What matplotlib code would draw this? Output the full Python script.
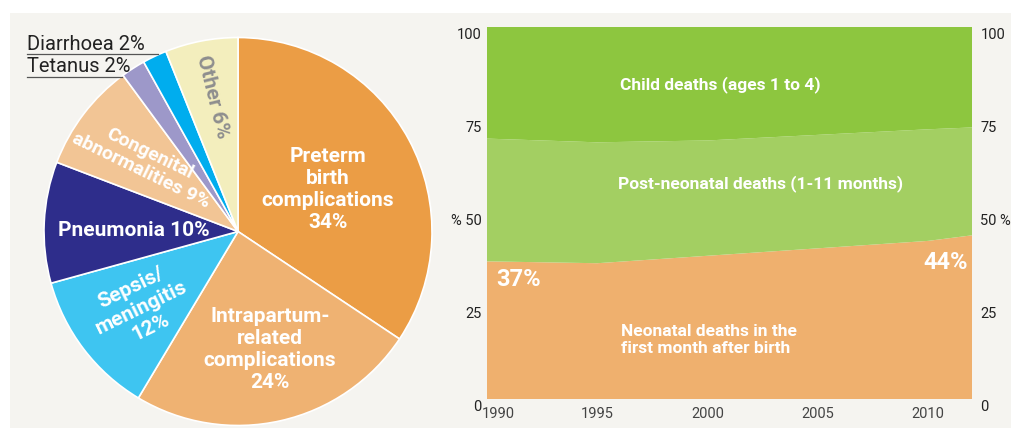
import matplotlib
matplotlib.use('Agg')
from matplotlib import pyplot as plt
from matplotlib.patches import Rectangle
import matplotlib.transforms as mtransforms

# pie data (clockwise from top)
causes = ['Preterm birth complications', 'Intrapartum-related complications',
          'Sepsis/meningitis', 'Pneumonia', 'Congenital abnormalities',
          'Tetanus', 'Diarrhoea', 'Other']
shares = [34, 24, 12, 10, 9, 2, 2, 6]
pie_colors = ['#eb9d45', '#efb272', '#3ec5f1', '#2e2d8b', '#f2c595',
              '#9d98c9', '#00adee', '#f3eebd']

# area chart data
years = [1990, 1995, 2000, 2005, 2010, 2012]
neonatal = [37, 36.5, 38.5, 40.5, 42.5, 44]
post_neonatal = [33, 32.5, 31, 30.5, 30, 29]
child = [30, 31, 30.5, 29, 27.5, 27]
area_colors = ['#efb06e', '#a3cf62', '#8dc63f']
xtick_years = [1990, 1995, 2000, 2005, 2010]
ytick_vals = [0, 25, 50, 75, 100]
left_labels = ['0', '25', '% 50', '75', '100']
right_labels = ['0', '25', '50 %', '75', '100']

plt.rcParams['font.family'] = ['Roboto', 'DejaVu Sans']

W, H = 1011, 428
fig = plt.figure(figsize=(W / 100, H / 100), dpi=100, facecolor='white')
# grey panel behind everything
bg = fig.add_axes([10 / W, 0, 1, (H - 13) / H], zorder=-5)
bg.add_patch(Rectangle((0, 0), 1, 1, facecolor='#f5f4f0', edgecolor='none'))
bg.axis('off')

# ---- pie ----
cx, cy, r = 238, H - 231.5, 194
ax1 = fig.add_axes([(cx - r) / W, (cy - r) / H, 2 * r / W, 2 * r / H])
ax1.pie(shares, colors=pie_colors, startangle=90, counterclock=False,
        wedgeprops=dict(edgecolor='white', linewidth=1.2))
ax1.set_xlim(-1, 1)
ax1.set_ylim(-1, 1)
ax1.axis('off')


def px(x, y):
    # pixel coords of the picture -> pie data coords
    return (x - cx) / r, ((H - y) - cy) / r


tk = dict(color='white', fontweight='bold', fontsize=15, ha='center', va='center',
          linespacing=1.2)
ax1.text(*px(328, 190), 'Preterm\nbirth\ncomplications\n34%', **tk)
ax1.text(*px(270, 350), 'Intrapartum-\nrelated\ncomplications\n24%', **tk)
ax1.text(*px(141, 308), 'Sepsis/\nmeningitis\n12%', rotation=26, **tk)
ax1.text(*px(134, 230), 'Pneumonia 10%', **tk)
ax1.text(*px(145, 162), 'Congenital\nabnormalities 9%', rotation=-26, color='white',
         fontweight='bold', fontsize=14, ha='center', va='center', linespacing=1.05)
ax1.text(*px(213, 97), 'Other 6%', color='#8e8e8e', fontweight='bold', fontsize=15,
         ha='center', va='center', rotation=-76)

# small slice labels with underline
fig.text(27 / W, (H - 44) / H, 'Diarrhoea 2%', fontsize=14.5, color='#222222',
         ha='left', va='center')
fig.text(27 / W, (H - 67) / H, 'Tetanus 2%', fontsize=14.5, color='#222222',
         ha='left', va='center')
fig.lines.append(plt.Line2D([27 / W, 158 / W], [(H - 54) / H] * 2, transform=fig.transFigure,
                            color='#555555', lw=0.9))
fig.lines.append(plt.Line2D([27 / W, 122 / W], [(H - 77) / H] * 2, transform=fig.transFigure,
                            color='#555555', lw=0.9))

# ---- stacked area ----
ax2 = fig.add_axes([487 / W, 29 / H, 485 / W, 372 / H])
ax2.stackplot(years, neonatal, post_neonatal, child, colors=area_colors, linewidth=0)
ax2.set_xlim(1990, 2012)
ax2.set_ylim(0, 100)
for s in ax2.spines.values():
    s.set_visible(False)
ax2.set_xticks(xtick_years)
ax2.set_xticklabels([str(y) for y in xtick_years], fontsize=10.5, color='#444444')
ax2.set_yticks(ytick_vals)
ax2.set_yticklabels(left_labels, fontsize=10.5, color='#222222')
ax2.tick_params(length=0, pad=4)
ax2.tick_params(axis='x', pad=6)
ax3 = ax2.twinx()
ax3.set_ylim(0, 100)
ax3.set_yticks(ytick_vals)
ax3.set_yticklabels(right_labels, fontsize=10.5, color='#222222')
ax3.tick_params(length=0, pad=6)
for s in ax3.spines.values():
    s.set_visible(False)
# tick labels sit a bit below the gridline
off = mtransforms.ScaledTranslation(0, -5 / 72, fig.dpi_scale_trans)
for lab in ax2.get_yticklabels() + ax3.get_yticklabels():
    lab.set_transform(lab.get_transform() + off)
first = ax2.get_xticklabels()[0]
first.set_transform(first.get_transform()
                    + mtransforms.ScaledTranslation(8 / 72, 0, fig.dpi_scale_trans))

at = dict(color='white', fontweight='bold', fontsize=12.5, ha='center', va='center')
ax2.text(2000.6, 84.5, 'Child deaths (ages 1 to 4)', **at)
ax2.text(2002.4, 58, 'Post-neonatal deaths (1-11 months)', **at)
ax2.text(1996.1, 15.8, 'Neonatal deaths in the\nfirst month after birth', color='white',
         fontweight='bold', fontsize=12.5, ha='left', va='center', linespacing=1.2)
ax2.text(1990.4, 32, '37%', color='white', fontweight='bold', fontsize=17, ha='left', va='center')
ax2.text(2011.8, 36.8, '44%', color='white', fontweight='bold', fontsize=17, ha='right', va='center')

fig.savefig('out.png', dpi=100, facecolor=fig.get_facecolor())
